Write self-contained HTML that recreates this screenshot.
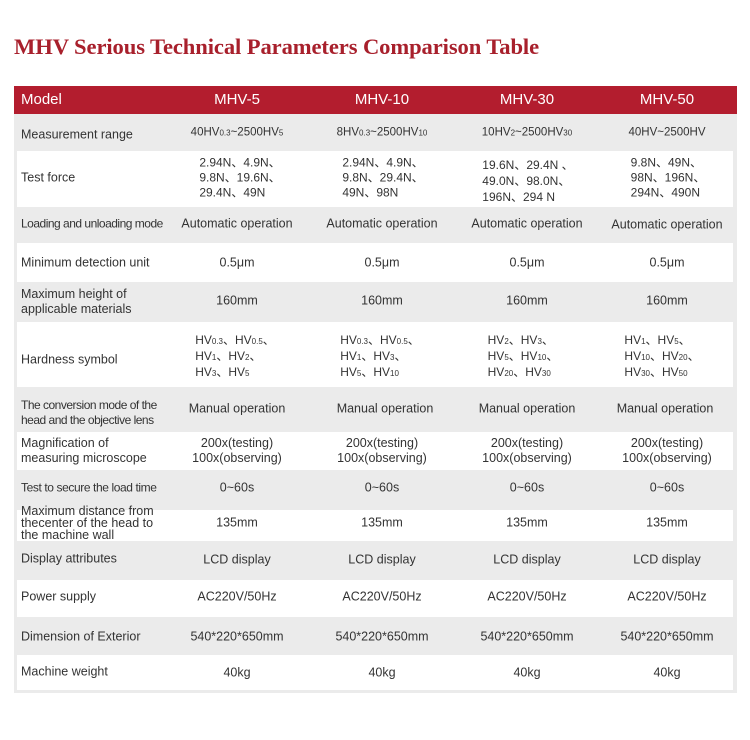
<!DOCTYPE html>
<html><head><meta charset="utf-8"><style>
body{margin:0;width:750px;height:740px;background:#fff;position:relative;overflow:hidden;font-family:"Liberation Sans",sans-serif;color:#333}
.t{position:absolute;left:14px;top:34px;font:bold 22.6px "Liberation Serif",serif;color:#a8202c;letter-spacing:-0.1px}
.hdr{position:absolute;left:14px;top:86px;width:723px;height:28px;background:#b31d2e}
.h{position:absolute;top:91px;color:#fff;font-size:15px;transform:translateX(-50%)}
.bg{position:absolute;left:14px;top:114px;width:723px;height:579px;background:#ebebeb}
.w{position:absolute;left:17px;width:716px;background:#fff}
.r{position:absolute;font-size:12.5px;line-height:15px}
.l{left:21px}
.c{transform:translate(-50%,-50%);text-align:center;white-space:nowrap}
.lt{transform:translateY(-50%)}
.s{font-size:8px}
.ll{text-align:left}
</style></head><body>
<div class="t">MHV Serious Technical Parameters Comparison Table</div>
<div class="hdr"></div>
<div class="h" style="transform:none;left:21px">Model</div>
<div class="h" style="left:237px">MHV-5</div>
<div class="h" style="left:382px">MHV-10</div>
<div class="h" style="left:527px">MHV-30</div>
<div class="h" style="left:667px">MHV-50</div>
<div class="bg"></div>
<div class="w" style="top:151px;height:56px"></div>
<div class="w" style="top:243px;height:39px"></div>
<div class="w" style="top:322px;height:65px"></div>
<div class="w" style="top:432px;height:38px"></div>
<div class="w" style="top:510px;height:31px"></div>
<div class="w" style="top:580px;height:37px"></div>
<div class="w" style="top:655px;height:35px"></div>

<div class="r l lt" style="top:135px">Measurement range</div>
<div class="r c" style="left:237px;top:133px;font-size:11.5px">40HV<span class="s">0.3</span>~2500HV<span class="s">5</span></div>
<div class="r c" style="left:382px;top:133px;font-size:11.5px">8HV<span class="s">0.3</span>~2500HV<span class="s">10</span></div>
<div class="r c" style="left:527px;top:133px;font-size:11.5px">10HV<span class="s">2</span>~2500HV<span class="s">30</span></div>
<div class="r c" style="left:667px;top:133px;font-size:11.5px">40HV~2500HV</div>

<div class="r l lt" style="top:178px">Test force</div>
<div class="r c ll" style="left:240px;top:178px;font-size:12px">2.94N、4.9N、<br>9.8N、19.6N、<br>29.4N、49N</div>
<div class="r c ll" style="left:383px;top:178px;font-size:12px">2.94N、4.9N、<br>9.8N、29.4N、<br>49N、98N</div>
<div class="r c ll" style="left:528px;top:181px;font-size:12px;line-height:16px">19.6N、29.4N 、<br>49.0N、98.0N、<br>196N、294 N</div>
<div class="r c ll" style="left:668px;top:178px;font-size:12px">9.8N、49N、<br>98N、196N、<br>294N、490N</div>

<div class="r l lt" style="top:224px;font-size:12px;letter-spacing:-0.5px">Loading and unloading mode</div>
<div class="r c" style="left:237px;top:224px">Automatic operation</div>
<div class="r c" style="left:382px;top:224px">Automatic operation</div>
<div class="r c" style="left:527px;top:224px">Automatic operation</div>
<div class="r c" style="left:667px;top:225px">Automatic operation</div>

<div class="r l lt" style="top:263px">Minimum detection unit</div>
<div class="r c" style="left:237px;top:263px">0.5μm</div>
<div class="r c" style="left:382px;top:263px">0.5μm</div>
<div class="r c" style="left:527px;top:263px">0.5μm</div>
<div class="r c" style="left:667px;top:263px">0.5μm</div>

<div class="r l lt" style="top:302px">Maximum height of<br>applicable materials</div>
<div class="r c" style="left:237px;top:301px">160mm</div>
<div class="r c" style="left:382px;top:301px">160mm</div>
<div class="r c" style="left:527px;top:301px">160mm</div>
<div class="r c" style="left:667px;top:301px">160mm</div>

<div class="r l lt" style="top:360px">Hardness symbol</div>
<div class="r c ll" style="left:235px;top:357px;font-size:12px">HV<span class="s">0.3</span>、HV<span class="s">0.5</span>、<br>HV<span class="s">1</span>、HV<span class="s">2</span>、<br>HV<span class="s">3</span>、HV<span class="s">5</span></div>
<div class="r c ll" style="left:380px;top:357px;font-size:12px">HV<span class="s">0.3</span>、HV<span class="s">0.5</span>、<br>HV<span class="s">1</span>、HV<span class="s">3</span>、<br>HV<span class="s">5</span>、HV<span class="s">10</span></div>
<div class="r c ll" style="left:523px;top:357px;font-size:12px">HV<span class="s">2</span>、HV<span class="s">3</span>、<br>HV<span class="s">5</span>、HV<span class="s">10</span>、<br>HV<span class="s">20</span>、HV<span class="s">30</span></div>
<div class="r c ll" style="left:662px;top:357px;font-size:12px">HV<span class="s">1</span>、HV<span class="s">5</span>、<br>HV<span class="s">10</span>、HV<span class="s">20</span>、<br>HV<span class="s">30</span>、HV<span class="s">50</span></div>

<div class="r l lt" style="top:413px;font-size:12px;letter-spacing:-0.5px">The conversion mode of the<br>head and the objective lens</div>
<div class="r c" style="left:237px;top:409px">Manual operation</div>
<div class="r c" style="left:385px;top:409px">Manual operation</div>
<div class="r c" style="left:527px;top:409px">Manual operation</div>
<div class="r c" style="left:665px;top:409px">Manual operation</div>

<div class="r l lt" style="top:451px">Magnification of<br>measuring microscope</div>
<div class="r c" style="left:237px;top:451px">200x(testing)<br>100x(observing)</div>
<div class="r c" style="left:382px;top:451px">200x(testing)<br>100x(observing)</div>
<div class="r c" style="left:527px;top:451px">200x(testing)<br>100x(observing)</div>
<div class="r c" style="left:667px;top:451px">200x(testing)<br>100x(observing)</div>

<div class="r l lt" style="top:488px;font-size:12px;letter-spacing:-0.4px">Test to secure the load time</div>
<div class="r c" style="left:237px;top:488px">0~60s</div>
<div class="r c" style="left:382px;top:488px">0~60s</div>
<div class="r c" style="left:527px;top:488px">0~60s</div>
<div class="r c" style="left:667px;top:488px">0~60s</div>

<div class="r l lt" style="top:523px;line-height:12px">Maximum distance from<br>thecenter of the head to<br>the machine wall</div>
<div class="r c" style="left:237px;top:523px">135mm</div>
<div class="r c" style="left:382px;top:523px">135mm</div>
<div class="r c" style="left:527px;top:523px">135mm</div>
<div class="r c" style="left:667px;top:523px">135mm</div>

<div class="r l lt" style="top:559px">Display attributes</div>
<div class="r c" style="left:237px;top:560px">LCD display</div>
<div class="r c" style="left:382px;top:560px">LCD display</div>
<div class="r c" style="left:527px;top:560px">LCD display</div>
<div class="r c" style="left:667px;top:560px">LCD display</div>

<div class="r l lt" style="top:597px">Power supply</div>
<div class="r c" style="left:237px;top:597px">AC220V/50Hz</div>
<div class="r c" style="left:382px;top:597px">AC220V/50Hz</div>
<div class="r c" style="left:527px;top:597px">AC220V/50Hz</div>
<div class="r c" style="left:667px;top:597px">AC220V/50Hz</div>

<div class="r l lt" style="top:637px">Dimension of Exterior</div>
<div class="r c" style="left:237px;top:637px">540*220*650mm</div>
<div class="r c" style="left:382px;top:637px">540*220*650mm</div>
<div class="r c" style="left:527px;top:637px">540*220*650mm</div>
<div class="r c" style="left:667px;top:637px">540*220*650mm</div>

<div class="r l lt" style="top:672px">Machine weight</div>
<div class="r c" style="left:237px;top:673px">40kg</div>
<div class="r c" style="left:382px;top:673px">40kg</div>
<div class="r c" style="left:527px;top:673px">40kg</div>
<div class="r c" style="left:667px;top:673px">40kg</div>
</body></html>
